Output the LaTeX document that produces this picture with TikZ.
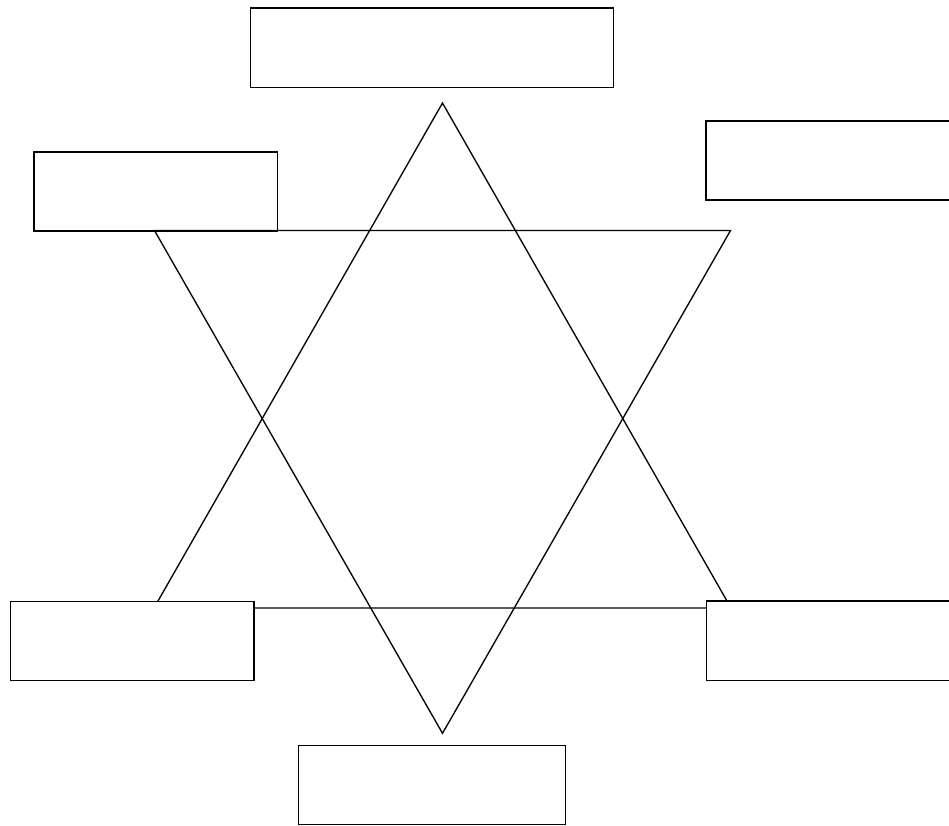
\documentclass[tikz,border=0pt]{standalone}
\begin{document}
\begin{tikzpicture}[x=0.75pt,y=-0.75pt,
  boxstyle/.style={draw=black,fill=white,line width=1.1pt,rectangle,inner sep=0pt},
  linestyle/.style={draw=black,line width=1pt,line join=miter}]
\useasboundingbox (0,0) rectangle (949,825);
\clip (0,0) rectangle (949,825);
% upward triangle
\coordinate (ua) at (442.5,103);
\coordinate (ul) at (154,608);
\coordinate (ur) at (731,608);
\draw[linestyle] (ua) -- (ul) -- (ur) -- cycle;
% boxes
\node[boxstyle,minimum width=362.6pt*0.75,minimum height=79.7pt*0.75] (top) at (432,47.9) {};
\node[boxstyle,minimum width=243.7pt*0.75,minimum height=79pt*0.75] (ulbox) at (155.9,191.7) {};
\node[boxstyle,minimum width=260pt*0.75,minimum height=79pt*0.75] (urbox) at (836,160.5) {};
% downward triangle
\coordinate (da) at (442.5,733.3);
\coordinate (dl) at (154.5,230.5);
\coordinate (dr) at (730.5,230.5);
\draw[linestyle] (da) -- (dl) -- (dr) -- cycle;
\node[boxstyle,minimum width=243.7pt*0.75,minimum height=79.4pt*0.75] (llbox) at (132.2,641) {};
\node[boxstyle,minimum width=260pt*0.75,minimum height=79.5pt*0.75] (lrbox) at (836.3,640.8) {};
\node[boxstyle,minimum width=267.4pt*0.75,minimum height=79pt*0.75] (bot) at (432,785.2) {};
\end{tikzpicture}
\end{document}
